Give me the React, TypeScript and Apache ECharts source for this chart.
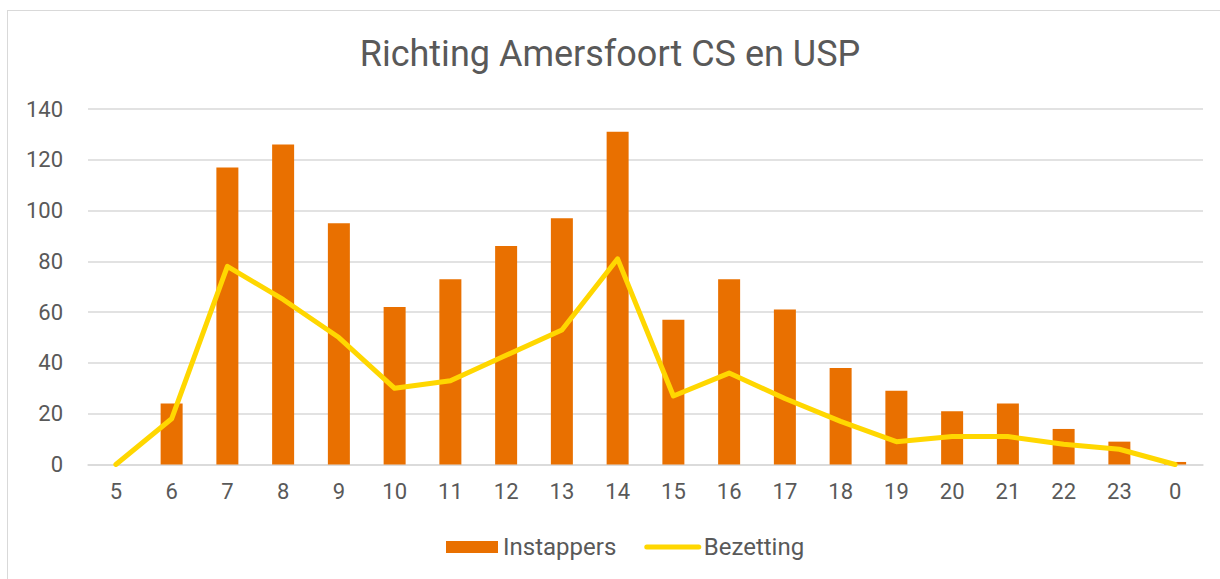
import React, { useEffect, useRef } from "react";
import * as echarts from "echarts";

const categories = ["5", "6", "7", "8", "9", "10", "11", "12", "13", "14", "15", "16", "17", "18", "19", "20", "21", "22", "23", "0"];
const instappers = [0, 24, 117, 126, 95, 62, 73, 86, 97, 131, 57, 73, 61, 38, 29, 21, 24, 14, 9, 1];
const bezetting = [0, 18, 78, 65, 50, 30, 33, 43, 53, 81, 27, 36, 26, 17, 9, 11, 11, 8, 6, 0];
const yTicks = { min: 0, max: 140, interval: 20 };

const textColor = "#595959";
const gridColor = "#d9d9d9";
const font = "Roboto";

export default function App() {
  const ref = useRef<HTMLDivElement>(null);
  useEffect(() => {
    if (!ref.current) return;
    const chart = echarts.init(ref.current, null, { renderer: "svg" });
    chart.setOption({
      animation: false,
      backgroundColor: "#ffffff",
      textStyle: { fontFamily: font },
      title: {
        text: "Richting Amersfoort CS en USP",
        left: "center",
        top: 31,
        textStyle: { fontFamily: font, fontSize: 36, fontWeight: "normal", color: textColor },
      },
      graphic: [
        { type: "line", shape: { x1: 7.5, y1: 10, x2: 7.5, y2: 579 }, style: { stroke: gridColor, lineWidth: 1 } },
        { type: "line", shape: { x1: 7, y1: 10.5, x2: 1220, y2: 10.5 }, style: { stroke: gridColor, lineWidth: 1 } },
      ],
      legend: {
        bottom: 15,
        left: 441,
        itemWidth: 52,
        itemHeight: 12,
        itemGap: 28,
        textStyle: { fontFamily: font, fontSize: 24, color: textColor },
        data: [
          { name: "Instappers", icon: "rect" },
          {
            name: "Bezetting",
            itemStyle: { opacity: 0 },
            lineStyle: { width: 5, cap: "round", color: "#FFD700" },
          },
        ],
      },
      grid: { left: 88, right: 17, top: 109, bottom: 114.5, containLabel: false },
      xAxis: {
        type: "category",
        data: categories,
        axisTick: { show: false },
        axisLine: { lineStyle: { color: gridColor, width: 1.5 } },
        axisLabel: { color: textColor, fontFamily: font, fontSize: 22, margin: 16 },
      },
      yAxis: {
        type: "value",
        min: yTicks.min,
        max: yTicks.max,
        interval: yTicks.interval,
        axisLine: { show: false },
        axisTick: { show: false },
        splitLine: { lineStyle: { color: gridColor, width: 1.5 } },
        axisLabel: { color: textColor, fontFamily: font, fontSize: 22, margin: 25 },
      },
      series: [
        {
          name: "Instappers",
          type: "bar",
          data: instappers,
          barWidth: 22,
          itemStyle: { color: "#E97000" },
        },
        {
          name: "Bezetting",
          type: "line",
          data: bezetting,
          showSymbol: false,
          symbol: "none",
          lineStyle: { color: "#FFD700", width: 5, join: "round", cap: "round" },
          itemStyle: { color: "#FFD700" },
        },
      ],
    });
    return () => chart.dispose();
  }, []);
  return (
    <div
      ref={ref}
      style={{ position: "fixed", left: 0, top: 0, width: 1220, height: 579 }}
    />
  );
}
